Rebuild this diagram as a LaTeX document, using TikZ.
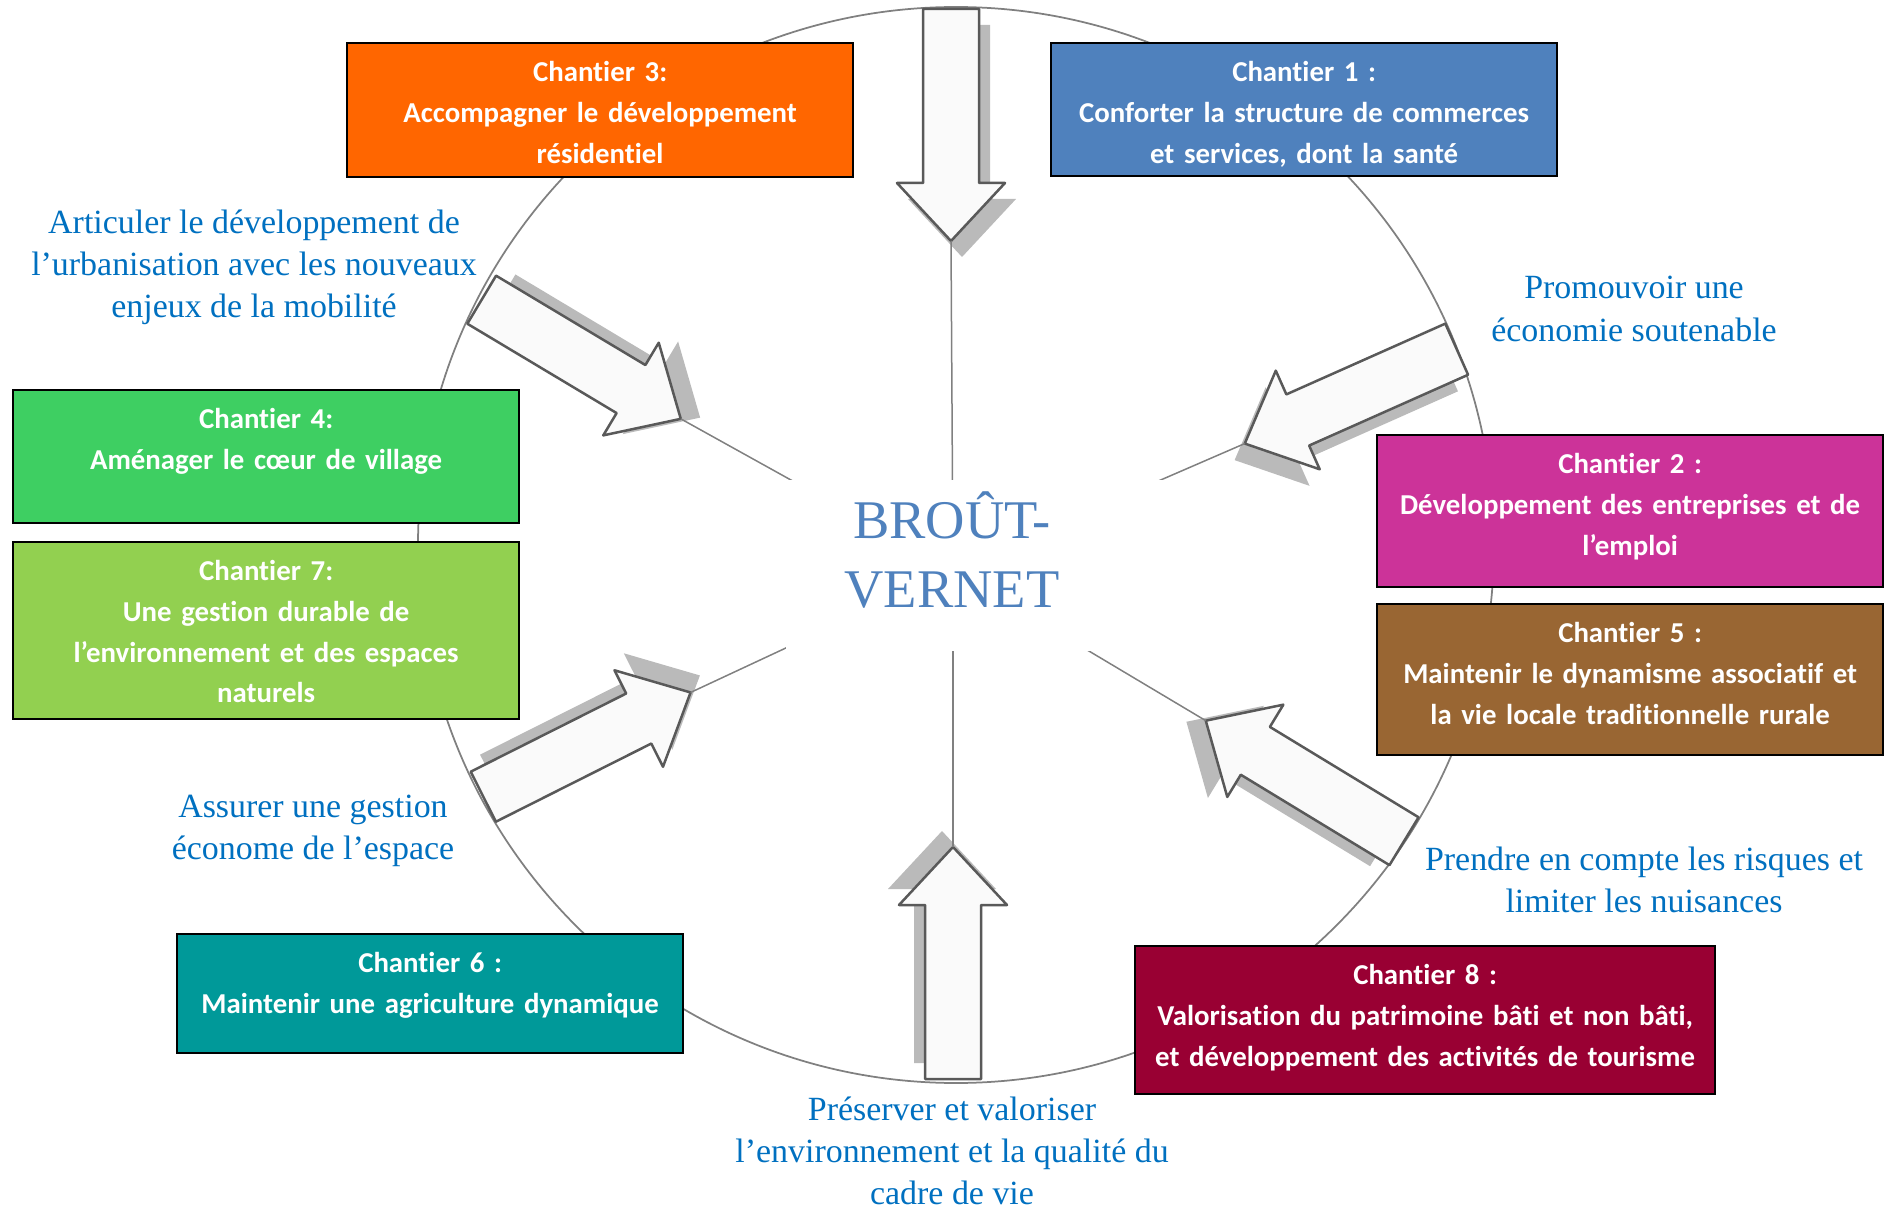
\documentclass[tikz,border=0pt]{standalone}
\usepackage{fontspec}
\setmainfont{Liberation Serif}
\newfontfamily\carlito[Ligatures=NoCommon]{Carlito}
\usetikzlibrary{positioning}
\definecolor{OrangeChantier}{RGB}{255,102,0}
\definecolor{BleuChantier}{RGB}{79,129,189}
\definecolor{VertChantier}{RGB}{62,207,98}
\definecolor{VertClair}{RGB}{146,208,80}
\definecolor{MagentaChantier}{RGB}{204,51,153}
\definecolor{BrunChantier}{RGB}{153,102,51}
\definecolor{SarcelleChantier}{RGB}{0,153,153}
\definecolor{BordeauxChantier}{RGB}{153,0,51}
\definecolor{BleuEnjeu}{RGB}{0,112,192}
\definecolor{BleuBourg}{RGB}{79,129,189}

\begin{document}
\begin{tikzpicture}[x=0.2mm, y=0.2mm,
    cercle/.style={draw=gray, line width=0.35mm},
    rayon/.style={draw=gray, line width=0.3mm},
    fleche/.style={fill=white!98!black, draw=black!65, line width=0.5mm, line join=round},
    ombre/.style={fill=black!27},
    chantier/.style={draw=black, line width=0.45mm, text=white, font=\carlito\bfseries\fontsize{16.4}{23.3}\selectfont, inner sep=0pt, align=center, anchor=north west, text height=7.6mm, text width=101.2mm},
    enjeu/.style={text=BleuEnjeu, font=\fontsize{19.3}{24}\selectfont, align=center},
    bourg/.style={text=BleuBourg, font=\fontsize{31}{39.7}\selectfont, align=center}]
        \useasboundingbox (0,0) rectangle (1890,-1207);
        \draw[cercle] (956,-545) circle (538);
        \coordinate (moyeu) at (953,-570);
        \foreach \i/\x/\y/\a in {1/951/9/-90, 2/953/1079/90, 3/481.7/299.7/-30.9, 4/1456.7/349.2/204, 5/483.3/796.7/26.7, 6/1404/841.2/148.7}{
          \begin{scope}[shift={(\x,-\y)}, rotate=\a]
            \fill[ombre] (16,-17) -- (190,-17) -- (190,-43) -- (248,11) -- (190,65) -- (190,39) -- (16,39) -- cycle;
            \draw[fleche] (0,-28) -- (174,-28) -- (174,-54) -- (232,0) -- (174,54) -- (174,28) -- (0,28) -- cycle;
            \coordinate (pointe\i) at (232,0);
          \end{scope}
        }
        \foreach \i in {1,...,6} \draw[rayon] (pointe\i) -- (moyeu);
        \fill[white] (786,-480) rectangle (1167,-651);
        \node[bourg] (nom) at (952,-550) {BROÛT-\\VERNET};
        \node[chantier, fill=OrangeChantier, text depth=19.2mm] (chantier3) at (346,-42) {Chantier 3:\\Accompagner le développement\\résidentiel};
        \node[chantier, fill=BleuChantier, text depth=19mm] (chantier1) at (1050,-42) {Chantier 1 :\\Conforter la structure de commerces\\et services, dont la santé};
        \node[chantier, fill=VertChantier, text depth=19mm] (chantier4) at (12,-389) {Chantier 4:\\Aménager le cœur de village};
        \node[chantier, fill=VertClair, text depth=27.8mm] (chantier7) at (12,-541) {Chantier 7:\\Une gestion durable de\\l’environnement et des espaces\\naturels};
        \node[chantier, fill=MagentaChantier, text depth=22.8mm] (chantier2) at (1376,-434) {Chantier 2 :\\Développement des entreprises et de\\l’emploi};
        \node[chantier, fill=BrunChantier, text depth=22.6mm] (chantier5) at (1376,-603) {Chantier 5 :\\Maintenir le dynamisme associatif et\\la vie locale traditionnelle rurale};
        \node[chantier, fill=SarcelleChantier, text depth=16.2mm] (chantier6) at (176,-933) {Chantier 6 :\\Maintenir une agriculture dynamique};
        \node[chantier, fill=BordeauxChantier, text width=116mm, text depth=22mm] (chantier8) at (1134,-945) {Chantier 8 :\\Valorisation du patrimoine bâti et non bâti,\\et développement des activités de tourisme};
        \node[enjeu] (mobilite) at (254,-267) {Articuler le développement de\\l’urbanisation avec les nouveaux\\enjeux de la mobilité};
        \node[enjeu] (economie) at (1634,-309) {Promouvoir une\\économie soutenable};
        \node[enjeu] (espace) at (313,-831) {Assurer une gestion\\économe de l’espace};
        \node[enjeu] (risques) at (1644,-880) {Prendre en compte les risques et\\limiter les nuisances};
        \node[enjeu] (cadre) at (952,-1151) {Préserver et valoriser\\l’environnement et la qualité du\\cadre de vie};
      \end{tikzpicture}
\end{document}
